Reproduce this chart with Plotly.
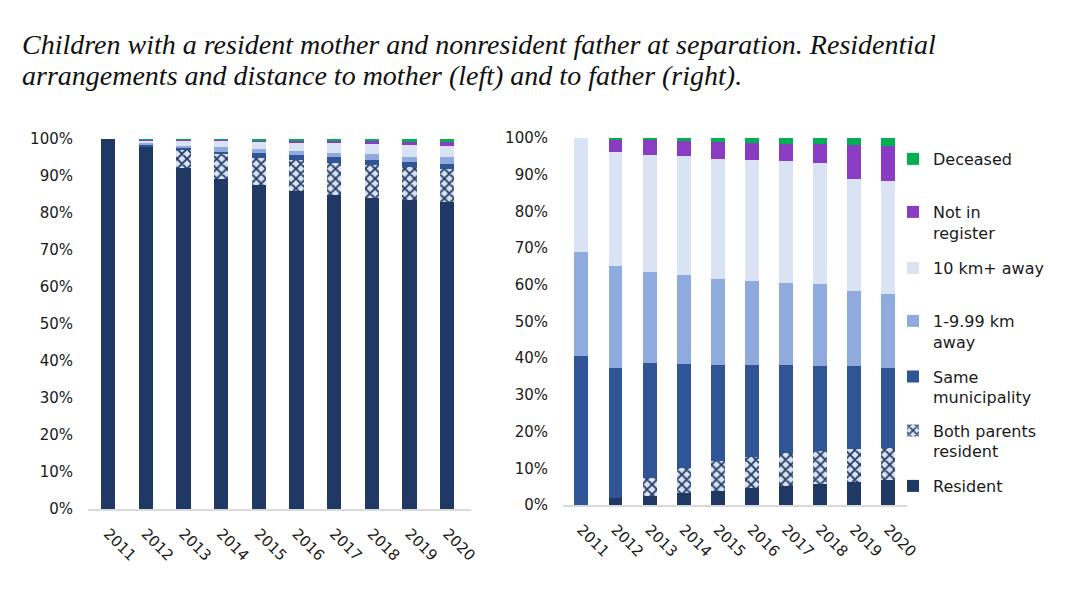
import plotly.graph_objects as go

W, H = 1079, 593

years = ["2011", "2012", "2013", "2014", "2015", "2016", "2017", "2018", "2019", "2020"]

series_names = ["Resident", "Both parents<br>resident", "Same<br>municipality",
                "1-9.99 km<br>away", "10 km+ away", "Not in<br>register", "Deceased"]

# Left chart: distance to mother (%)
mother_resident = [100.0, 97.8, 92.2, 89.1, 87.5, 85.9, 84.9, 84.1, 83.6, 83.1]
mother_both     = [0.0, 0.0, 4.7, 6.8, 7.4, 8.4, 8.7, 9.0, 8.7, 8.7]
mother_same     = [0.0, 0.7, 0.7, 0.7, 1.3, 1.4, 1.5, 1.3, 1.5, 1.5]
mother_1_10     = [0.0, 0.3, 0.5, 1.2, 1.2, 1.1, 1.1, 1.5, 1.4, 1.8]
mother_10plus   = [0.0, 0.8, 1.4, 1.7, 1.8, 2.2, 2.8, 3.0, 3.1, 3.1]
mother_notreg   = [0.0, 0.2, 0.3, 0.3, 0.4, 0.5, 0.5, 0.5, 0.9, 0.9]
mother_deceased = [0.0, 0.2, 0.2, 0.2, 0.4, 0.5, 0.5, 0.6, 0.8, 0.9]

# Right chart: distance to father (%)
father_resident = [0.0, 1.8, 2.5, 3.4, 3.9, 4.7, 5.3, 5.8, 6.4, 6.9]
father_both     = [0.0, 0.0, 4.8, 6.6, 8.0, 8.3, 8.8, 9.0, 8.9, 8.7]
father_same     = [40.6, 35.6, 31.3, 28.4, 26.2, 25.1, 24.0, 23.1, 22.6, 21.7]
father_1_10     = [28.4, 27.8, 24.9, 24.3, 23.6, 22.9, 22.5, 22.4, 20.5, 20.2]
father_10plus   = [31.0, 31.0, 31.8, 32.3, 32.6, 33.0, 33.0, 33.0, 30.4, 30.7]
father_notreg   = [0.0, 3.4, 4.2, 4.2, 4.7, 4.7, 4.9, 5.1, 9.2, 9.6]
father_deceased = [0.0, 0.4, 0.5, 0.8, 1.0, 1.3, 1.5, 1.6, 2.0, 2.2]

mother = [mother_resident, mother_both, mother_same, mother_1_10,
          mother_10plus, mother_notreg, mother_deceased]
father = [father_resident, father_both, father_same, father_1_10,
          father_10plus, father_notreg, father_deceased]

colors = ["#1F3864", "#DAE3F3", "#2F5597", "#8FAADC", "#DAE3F3", "#8A3DC4", "#00B050"]

title_lines = ["Children with a resident mother and nonresident father at separation. Residential",
               "arrangements and distance to mother (left) and to father (right)."]

# legend text-centre positions (px from top)
legend_centres = [486, 441, 387, 331.5, 268, 222.5, 159]

FONT = "DejaVu Sans"
TXT = "#1a1a1a"

fig = go.Figure()


def marker_for(i):
    if i == 1:
        return dict(color="#DAE3F3",
                    pattern=dict(shape="x", fgcolor="#1F3864", bgcolor="#DAE3F3",
                                 size=7, solidity=0.45, fillmode="replace"),
                    line=dict(width=0))
    return dict(color=colors[i], line=dict(width=0))


for i, name in enumerate(series_names):
    fig.add_trace(go.Bar(
        x=years, y=[v / 100 for v in mother[i]], name=name,
        marker=marker_for(i), width=0.38,
        xaxis="x", yaxis="y", showlegend=False,
        hovertemplate="%{x}: %{y:.1%}<extra>" + name.replace("<br>", " ") + "</extra>"))

for i, name in enumerate(series_names):
    lg = "legend" if i == 0 else f"legend{i+1}"
    fig.add_trace(go.Bar(
        x=years, y=[v / 100 for v in father[i]], name=name,
        marker=marker_for(i), width=0.41,
        xaxis="x2", yaxis="y2", showlegend=True, legend=lg,
        hovertemplate="%{x}: %{y:.1%}<extra>" + name.replace("<br>", " ") + "</extra>"))


def px_x(p):
    return p / W


def px_y(p):
    return 1 - p / H


axis_common = dict(
    type="category", showgrid=False, showline=True, linecolor="#D9D9D9", linewidth=2,
    ticks="", tickangle=45, tickfont=dict(family=FONT, size=15, color=TXT),
    ticklabelstandoff=8, fixedrange=True, automargin=False,
)
yaxis_common = dict(
    range=[0, 1], dtick=0.1, tickformat=".0%", showgrid=False, showline=False,
    zeroline=False, ticks="", tickfont=dict(family=FONT, size=15, color=TXT),
    ticklabelstandoff=14, fixedrange=True, automargin=False,
)

annotations = []
for j, (line, yc) in enumerate(zip(title_lines, [44, 75])):
    annotations.append(dict(
        text=line, xref="paper", yref="paper", x=px_x(20), y=px_y(yc),
        xanchor="left", yanchor="middle", align="left", showarrow=False,
        font=dict(family="Liberation Serif", size=28, color="#111111", style="italic"),
    ))

layout = dict(
    width=W, height=H, margin=dict(l=0, r=0, t=0, b=0, autoexpand=False),
    paper_bgcolor="white", plot_bgcolor="white",
    barmode="stack", bargap=0.6,
    xaxis=dict(domain=[px_x(88), px_x(471)], range=[-0.53, 9.63], anchor="y", **axis_common),
    yaxis=dict(domain=[px_y(509), px_y(139)], anchor="x", **yaxis_common),
    xaxis2=dict(domain=[px_x(563), px_x(907)], range=[-0.54, 9.55], anchor="y2", **axis_common),
    yaxis2=dict(domain=[px_y(505), px_y(138)], anchor="x2", **yaxis_common),
    font=dict(family=FONT, color=TXT),
    annotations=annotations,
)

for i in range(7):
    key = "legend" if i == 0 else f"legend{i+1}"
    layout[key] = dict(
        x=px_x(893), y=px_y(legend_centres[i]), xref="container", yref="container",
        xanchor="left", yanchor="middle",
        bgcolor="rgba(0,0,0,0)", borderwidth=0, valign="top",
        font=dict(family=FONT, size=16, color=TXT), itemwidth=30,
        itemclick=False, itemdoubleclick=False,
    )

fig.update_layout(**layout)

fig.write_html("out.html")
